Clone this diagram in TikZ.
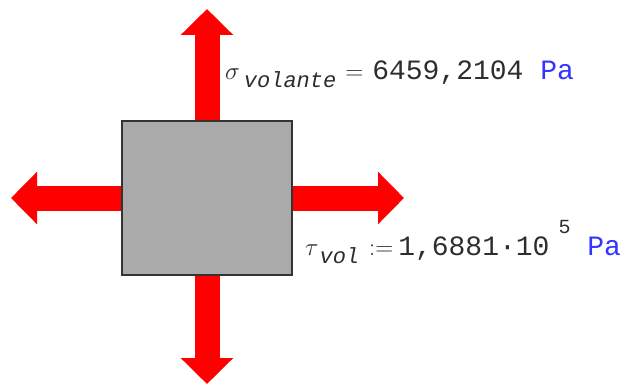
\documentclass[tikz,border=0pt]{standalone}
\usepackage{fontspec}
\setmonofont{Liberation Mono}
\usetikzlibrary{arrows.meta}
\definecolor{blockgray}{RGB}{170,170,170}
\definecolor{unitblue}{RGB}{51,51,255}
\definecolor{textgray}{RGB}{45,45,45}
\tikzset{
  force/.style={draw=red, line width=25pt, -{Triangle[width=51pt,length=26pt]}},
  eqn/.style={anchor=base west, inner sep=0pt, text=textgray, font=\ttfamily\fontsize{28}{30}\selectfont}
}
\newcommand{\subtxt}[1]{\raisebox{-8pt}{\fontsize{22}{24}\selectfont\itshape #1}}

\begin{document}
\begin{tikzpicture}[x=1pt, y=-1pt]
\useasboundingbox (0,0) rectangle (623,385);
\node[draw=black!80, line width=2pt, fill=blockgray, minimum width=170pt, minimum height=154pt, inner sep=0pt] (blk) at (207,198) {};
\coordinate (topend) at (207,9);\coordinate (botend) at (207,384);
\coordinate (leftend) at (11,198);\coordinate (rightend) at (404,198);
\draw[force] (blk.north) -- (topend);
\draw[force] (blk.south) -- (botend);
\draw[force] (blk.west) -- (leftend);
\draw[force] (blk.east) -- (rightend);
\node[eqn] (sig) at (225,80) {$\sigma$\hspace{4pt}\subtxt{volante}\hspace{9pt}{\fontsize{32}{32}\selectfont$=$}\hspace{9pt}6459,2104 \textcolor{unitblue}{Pa}};
\node[eqn] (tau) at (305,255) {$\tau$\hspace{1pt}\subtxt{vol}\hspace{10pt}{\fontsize{32}{32}\selectfont$:=$}\hspace{5pt}1,6881·10\hspace{9pt}\raisebox{22pt}{\fontsize{20}{22}\selectfont 5} \textcolor{unitblue}{Pa}};
\end{tikzpicture}
\end{document}
